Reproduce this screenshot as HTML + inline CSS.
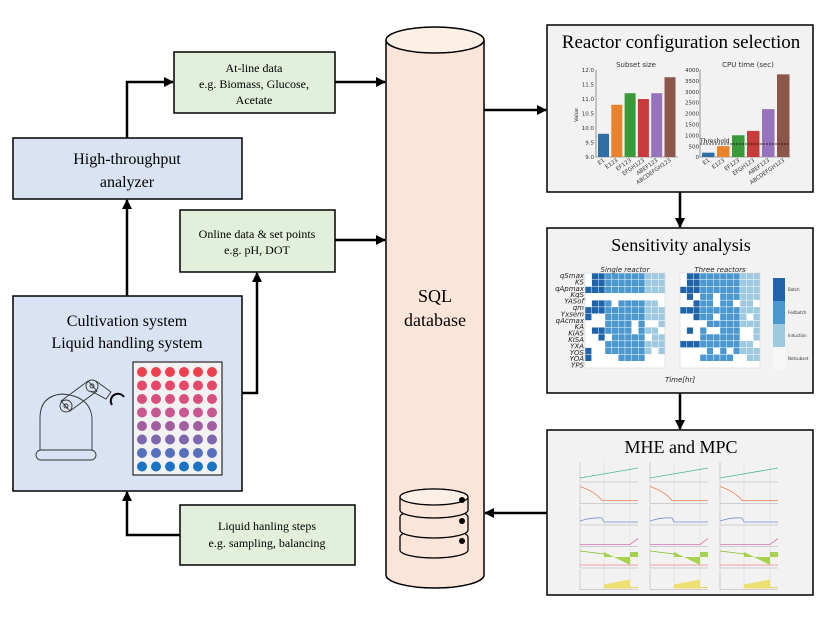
<!DOCTYPE html>
<html><head><meta charset="utf-8"><style>
html,body{margin:0;padding:0;background:#fff;}
svg{display:block;font-family:"Liberation Serif",serif;}
</style></head><body>
<svg id="s" width="830" height="623" viewBox="0 0 830 623" xmlns="http://www.w3.org/2000/svg">
<defs>
<marker id="a" markerWidth="10" markerHeight="10" refX="9" refY="5" orient="auto" markerUnits="userSpaceOnUse">
<path d="M0,0 L10,5 L0,10 z" fill="#000"/></marker>
</defs>
<!-- cylinder -->
<path d="M386,40 L386,575 A49,13 0 0 0 484,575 L484,40" fill="#fbe5d8" stroke="#000" stroke-width="1.5"/>
<ellipse cx="435" cy="40" rx="49" ry="13" fill="#fcefe6" stroke="#000" stroke-width="1.5"/>
<text x="435" y="302" font-size="18" text-anchor="middle">SQL</text>
<text x="435" y="326" font-size="18" text-anchor="middle">database</text>
<!-- db icon -->
<g stroke="#000" stroke-width="1.3" fill="#fbe5d8">
<path d="M400,537 A34,8 0 0 1 468,537 V550 A34,8 0 0 1 400,550 z"/>
<path d="M400,517 A34,8 0 0 1 468,517 V530 A34,8 0 0 1 400,530 z"/>
<path d="M400,497 A34,8 0 0 1 468,497 V510 A34,8 0 0 1 400,510 z"/>
<ellipse cx="434" cy="497" rx="34" ry="8" fill="#fcefe6"/>
</g>
<circle cx="462" cy="500" r="3"/><circle cx="462" cy="521" r="3"/><circle cx="462" cy="541" r="3"/>

<!-- left boxes -->
<rect x="174" y="52" width="161" height="61" fill="#e2efda" stroke="#000" stroke-width="1.5"/>
<text x="254" y="72" font-size="12" text-anchor="middle">At-line data</text>
<text x="254" y="88" font-size="12" text-anchor="middle">e.g. Biomass, Glucose,</text>
<text x="254" y="104" font-size="12" text-anchor="middle">Acetate</text>

<rect x="13" y="138" width="229" height="61" fill="#dae3f3" stroke="#000" stroke-width="1.5"/>
<text x="127" y="164" font-size="16" text-anchor="middle">High-throughput</text>
<text x="127" y="187" font-size="16" text-anchor="middle">analyzer</text>

<rect x="180" y="210" width="155" height="62" fill="#e2efda" stroke="#000" stroke-width="1.5"/>
<text x="257" y="238" font-size="12" text-anchor="middle">Online data &amp; set points</text>
<text x="257" y="254" font-size="12" text-anchor="middle">e.g. pH, DOT</text>

<rect x="13" y="296" width="229" height="195" fill="#dae3f3" stroke="#000" stroke-width="1.5"/>
<text x="127" y="326" font-size="16" text-anchor="middle">Cultivation system</text>
<text x="127" y="348" font-size="16" text-anchor="middle">Liquid handling system</text>
<rect x="133" y="362" width="89" height="113" fill="#f2f2f2" stroke="#000" stroke-width="1"/>
<g id="wells"></g>
<!-- robot -->
<g fill="none" stroke="#333" stroke-width="0.9">
<rect x="36" y="450" width="60" height="10" rx="5"/>
<path d="M40,450 V418 Q40,396 62,394 Q90,396 92,418 V450"/>
<path d="M61,401 L88,381 L97,391 L70,411 z"/>
<circle cx="66" cy="406" r="6"/><circle cx="66" cy="406" r="2"/>
<circle cx="92" cy="386" r="6"/><circle cx="92" cy="386" r="2"/>
<path d="M96,381 L111,392 L106,399 L91,391"/>
</g>
<path d="M112,405 A7,7 0 1 1 124,397" fill="none" stroke="#000" stroke-width="2"/>

<rect x="180" y="505" width="175" height="60" fill="#e2efda" stroke="#000" stroke-width="1.5"/>
<text x="267" y="530" font-size="12" text-anchor="middle">Liquid hanling steps</text>
<text x="267" y="547" font-size="12" text-anchor="middle">e.g. sampling, balancing</text>

<!-- arrows -->
<g stroke="#000" stroke-width="2.5" fill="none">
<path d="M127,138 V82 H173" marker-end="url(#a)"/>
<path d="M335,82 H385" marker-end="url(#a)"/>
<path d="M335,240 H385" marker-end="url(#a)"/>
<path d="M127,296 V200" marker-end="url(#a)"/>
<path d="M242,393 H257 V273" marker-end="url(#a)"/>
<path d="M180,535 H127 V492" marker-end="url(#a)"/>
<path d="M484,110 H546" marker-end="url(#a)"/>
<path d="M680,192 V227" marker-end="url(#a)"/>
<path d="M680,393 V429" marker-end="url(#a)"/>
<path d="M547,513 H485" marker-end="url(#a)"/>
</g>

<!-- right panels -->
<rect x="547" y="25" width="266" height="167" fill="#f2f2f2" stroke="#000" stroke-width="1.5"/>
<text x="681" y="48" font-size="19" text-anchor="middle">Reactor configuration selection</text>
<rect x="547" y="228" width="266" height="165" fill="#f2f2f2" stroke="#000" stroke-width="1.5"/>
<text x="681" y="251" font-size="18" text-anchor="middle">Sensitivity analysis</text>
<rect x="547" y="430" width="266" height="165" fill="#f2f2f2" stroke="#000" stroke-width="1.5"/>
<text x="681" y="453" font-size="18" text-anchor="middle">MHE and MPC</text>
<g id="charts" font-family="DejaVu Sans, sans-serif"></g>
</svg>
<script>
var NS="http://www.w3.org/2000/svg";
function el(p,t,a,txt){var e=document.createElementNS(NS,t);for(var k in a)e.setAttribute(k,a[k]);if(txt!=null)e.textContent=txt;p.appendChild(e);return e;}
var W=document.getElementById('wells');
var cols=["#ee3f50","#e8476a","#d94f7e","#c9578f","#a35e9f","#7e66ad","#5670bd","#1a73c5"];
for(var r=0;r<8;r++)for(var c=0;c<6;c++)el(W,'circle',{cx:142+c*14,cy:372+r*13.5,r:5,fill:cols[r]});
var C=document.getElementById('charts');
var bc=["#2f6fa5","#e8822c","#3a9a3a","#c93a3a","#9673ba","#8c564b"];
el(C,'text',{x:636,y:67,'font-size':7,'text-anchor':'middle',fill:'#333'},'Subset size');
el(C,'path',{d:'M596,70 V157 H678',stroke:'#555','stroke-width':0.6,fill:'none'});
var v1=[9.8,10.8,11.2,11.0,11.2,11.75];
for(var i=0;i<6;i++){var h=(v1[i]-9)/3*87;el(C,'rect',{x:598+i*13.3,y:157-h,width:11,height:h,fill:bc[i]});}
var yl=["12.0","11.5","11.0","10.5","10.0","9.5","9.0"];
for(var i=0;i<7;i++)el(C,'text',{x:594,y:72+i*14.5,'font-size':5.5,'text-anchor':'end',fill:'#333'},yl[i]);
el(C,'text',{x:578,y:115,'font-size':5,fill:'#333',transform:'rotate(-90 578 115)','text-anchor':'middle'},'Value');
var lbs=["E1","E123","EF123","EFGH123","ABEF123","ABCDEFGH123"];
for(var i=0;i<6;i++){var x=605+i*13.3;el(C,'text',{x:x,y:161,'font-size':5.5,'text-anchor':'end',fill:'#333',transform:'rotate(-35 '+x+' 161)'},lbs[i]);}
el(C,'text',{x:748,y:67,'font-size':7,'text-anchor':'middle',fill:'#333'},'CPU time (sec)');
el(C,'path',{d:'M700,70 V157 H790',stroke:'#555','stroke-width':0.6,fill:'none'});
var v2=[200,500,1000,1200,2200,3800];
for(var i=0;i<6;i++){var h=v2[i]/4000*87;el(C,'rect',{x:702+i*15,y:157-h,width:12.5,height:h,fill:bc[i]});}
for(var i=0;i<9;i++)el(C,'text',{x:699,y:72+i*10.9,'font-size':5.5,'text-anchor':'end',fill:'#333'},String(4000-i*500));
el(C,'path',{d:'M700,144 H790',stroke:'#000','stroke-width':0.7,'stroke-dasharray':'2,1'});
el(C,'text',{x:700,y:143,'font-size':6,fill:'#222'},'Threshold');
for(var i=0;i<6;i++){var x=710+i*15;el(C,'text',{x:x,y:161,'font-size':5.5,'text-anchor':'end',fill:'#333',transform:'rotate(-35 '+x+' 161)'},lbs[i]);}
var shades=["#ffffff","#9ecae1","#4a98cf","#1f63a8"];
function seed(n){var x=Math.sin(n*12.9898)*43758.5453;return x-Math.floor(x);}
function heat(x0,off){
  var cw=80/12, ch=95/14;
  for(var r=0;r<14;r++)for(var c=0;c<12;c++){
    var v;
    if(r==2||r==5){v=c<3?3:(c<9?2:1);}
    else if(r==3&&off==0){v=0;}
    else{var s=seed(r*31+c*7+off);v=c<3?(s>0.6?3:0):(c>=9?(s>0.4?1:0):(s>0.25?2:0));}
    if(r==0||r==1){v=c<3?(c>0?3:0):(c<9?2:1);}
    if(r==13)v=0;
    el(C,'rect',{x:x0+c*cw,y:273+r*ch,width:cw,height:ch,fill:shades[v],stroke:'#fff','stroke-width':0.4});
  }
  el(C,'rect',{x:x0,y:273,width:80,height:95,fill:'none',stroke:'#ccc','stroke-width':0.5});
}
heat(585,0);heat(680,5);
el(C,'text',{x:625,y:272,'font-size':7,'text-anchor':'middle','font-style':'italic',fill:'#222'},'Single reactor');
el(C,'text',{x:720,y:272,'font-size':7,'text-anchor':'middle','font-style':'italic',fill:'#222'},'Three reactors');
el(C,'text',{x:680,y:382,'font-size':7,'text-anchor':'middle','font-style':'italic',fill:'#222'},'Time[hr]');
var pl=["qSmax","KS","qApmax","KqS","YASof","qm","Yxsem","qAcmax","KA","KiAS","KiSA","YXA","YOS","YOA","YPS"];
for(var i=0;i<15;i++)el(C,'text',{x:584,y:278+i*6.4,'font-size':7,'text-anchor':'end','font-style':'italic',fill:'#222'},pl[i]);
var lg=["#1f63a8","#4a98cf","#9ecae1","#f7f7f7"],ln=["Batch","Fedbatch","Induction","Notsubset"];
for(var i=0;i<4;i++){el(C,'rect',{x:773,y:278+i*23,width:12,height:23,fill:lg[i]});el(C,'text',{x:788,y:291+i*23,'font-size':4,fill:'#333'},ln[i]);}
var pc=["#4cb890","#f08050","#7090d0","#e070b0","#80c020","#e0d040"];
for(var k=0;k<3;k++){var x0=580+k*70;
  for(var r=0;r<6;r++){var y0=462+r*21.5;
    el(C,'path',{d:'M'+x0+','+y0+' V'+(y0+20)+' H'+(x0+58),stroke:'#999','stroke-width':0.4,fill:'none'});
    el(C,'path',{d:'M'+(x0+24)+','+y0+' V'+(y0+20)+' M'+(x0+50)+','+y0+' V'+(y0+20),stroke:'#aaa','stroke-width':0.4,'stroke-dasharray':'1,1'});
    var d;
    if(r==0)d='M'+x0+','+(y0+16)+' L'+(x0+58)+','+(y0+6);
    else if(r==1)d='M'+x0+','+(y0+3)+' Q'+(x0+15)+','+(y0+8)+' '+(x0+22)+','+(y0+17)+' H'+(x0+58);
    else if(r==2)d='M'+x0+','+(y0+16)+' Q'+(x0+12)+','+(y0+12)+' '+(x0+22)+','+(y0+13)+' L'+(x0+24)+','+(y0+17)+' H'+(x0+58);
    else if(r==3)d='M'+x0+','+(y0+18)+' H'+(x0+50)+' L'+(x0+58)+','+(y0+12);
    else if(r==4){el(C,'path',{d:'M'+(x0+24)+','+(y0+4)+' L'+(x0+50)+','+(y0+17)+' V'+(y0+4)+' H'+(x0+58)+' V'+(y0+9)+' H'+(x0+24)+' z',fill:'#9acd32',opacity:0.85});
      el(C,'path',{d:'M'+x0+','+(y0+17)+' H'+(x0+58),stroke:'#f0a0a0','stroke-width':1});d='M'+x0+','+(y0+3)+' L'+(x0+24)+','+(y0+6);}
    else {el(C,'path',{d:'M'+(x0+24)+','+(y0+19)+' V'+(y0+15)+' L'+(x0+50)+','+(y0+10)+' V'+(y0+19)+' z',fill:'#eee070'});d='M'+(x0+50)+','+(y0+18)+' H'+(x0+58);}
    el(C,'path',{d:d,stroke:pc[r],'stroke-width':0.8,fill:'none'});
  }
}
</script>
</body></html>
